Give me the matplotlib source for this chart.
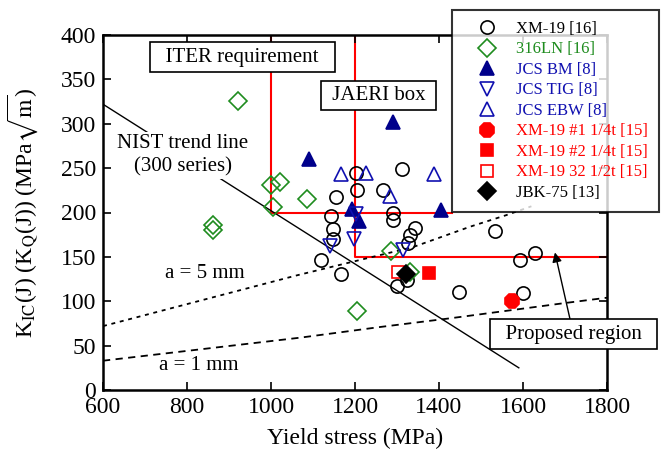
# -*- coding: utf-8 -*-
import matplotlib
matplotlib.use('Agg')
import matplotlib.pyplot as plt

plt.rcParams['font.family'] = ['Liberation Serif', 'DejaVu Serif']
plt.rcParams['mathtext.fontset'] = 'stix'

# data
xm19_x = [1202, 1311, 1204, 1154, 1266, 1143, 1291, 1291, 1147, 1147, 1343,
          1331, 1327, 1118, 1167, 1323, 1301, 1448, 1533, 1593, 1628, 1599]
xm19_y = [244, 249, 225, 218, 225, 196, 199, 191, 181, 170, 183,
          175, 166, 147, 131, 124, 117, 110, 179, 146, 154, 109]
ln316_x = [922, 999, 1021, 1005, 1086, 861, 861, 1286, 1330, 1204]
ln316_y = [326, 231, 234, 206, 215, 186, 180, 157, 133, 89]
bm_x = [1290, 1090, 1192, 1210, 1405]
bm_y = [302, 260, 204, 190, 203]
tig_x = [1202, 1198, 1140, 1315]
tig_y = [198, 170, 162, 158]
ebw_x = [1166, 1226, 1283, 1388]
ebw_y = [243, 245, 219, 243]
x1_x, x1_y = [1573], [100]
x2_x, x2_y = [1375], [132]
x32_x, x32_y = [1303], [133]
jbk_x, jbk_y = [1321], [131]

# guide lines
nist_x = [600, 1590]
nist_y = [322, 25]
a5_x = [600, 1060, 1216, 1338, 1474, 1560, 1620]
a5_y = [72, 129, 147, 161, 184, 197, 207]
a1_x = [600, 1070, 1260, 1430, 1700, 1800]
a1_y = [33, 59, 71, 81, 98, 104]
iter_x = [1000, 1000, 1430]
iter_y = [400, 200, 200]
jaeri_x = [1200, 1200, 1800]
jaeri_y = [400, 150, 150]

GREEN = '#1e8c1e'
BLUE = '#1010b0'
NAVY = '#00008b'
RED = '#ff0000'

fig = plt.figure(figsize=(6.67, 4.55), dpi=100)
ax = fig.add_axes([103/667, 1-390/455, 504/667, 355/455])

ax.plot(iter_x, iter_y, color=RED, lw=1.5, zorder=1)
ax.plot(jaeri_x, jaeri_y, color=RED, lw=1.5, zorder=1)
ax.plot(nist_x, nist_y, color='black', lw=1.0, zorder=1)
ax.plot(a5_x, a5_y, color='black', lw=1.3, ls=(0, (2.2, 2.6)), zorder=1)
ax.plot(a1_x, a1_y, color='black', lw=1.3, ls=(0, (4, 3)), zorder=1)

ms = 9.5
mew = 1.2
h = []
h.append(ax.plot(xm19_x, xm19_y, 'o', ms=ms, mfc='none', mec='black', mew=mew, label='XM-19 [16]')[0])
h.append(ax.plot(ln316_x, ln316_y, 'D', ms=9, mfc='none', mec=GREEN, mew=mew, label='316LN [16]')[0])
h.append(ax.plot(bm_x, bm_y, '^', ms=10, mfc=NAVY, mec=NAVY, mew=mew, label='JCS BM [8]')[0])
h.append(ax.plot(tig_x, tig_y, 'v', ms=10, mfc='none', mec=BLUE, mew=mew, label='JCS TIG [8]')[0])
h.append(ax.plot(ebw_x, ebw_y, '^', ms=10, mfc='none', mec=BLUE, mew=mew, label='JCS EBW [8]')[0])
h.append(ax.plot(x1_x, x1_y, '8', ms=11, mfc=RED, mec=RED, mew=mew, label='XM-19 #1 1/4t [15]')[0])
h.append(ax.plot(x2_x, x2_y, 's', ms=8.5, mfc=RED, mec=RED, mew=mew, label='XM-19 #2 1/4t [15]')[0])
h.append(ax.plot(x32_x, x32_y, 's', ms=8.5, mfc='none', mec=RED, mew=mew, label='XM-19 32 1/2t [15]')[0])
h.append(ax.plot(jbk_x, jbk_y, 'D', ms=9, mfc='black', mec='black', mew=mew, label='JBK-75 [13]')[0])

ax.set_xlim(600, 1800)
ax.set_ylim(0, 400)
ax.set_xticks(range(600, 1801, 200))
ax.set_yticks(range(0, 401, 50))
ax.tick_params(direction='in', top=True, right=True, length=6, width=1.2,
               labelsize=17, pad=5)
for s in ax.spines.values():
    s.set_linewidth(1.8)

ax.set_xlabel('Yield stress (MPa)', fontsize=17, labelpad=7)
ax.set_ylabel(r'K$_{\rm IC}$(J) (K$_{\rm Q}$(J)) (MPa$\sqrt{\rm m}$)', fontsize=17)
ax.yaxis.set_label_coords(-0.125, 0.5)

box = dict(boxstyle='square,pad=0.25', fc='white', ec='black', lw=1.2)
ax.text(932, 375, '  ITER requirement  ', fontsize=15, ha='center', va='center', bbox=box, zorder=3)
ax.text(1256, 332, ' JAERI box ', fontsize=15, ha='center', va='center', bbox=box, zorder=3)
ax.text(790, 264, 'NIST trend line\n(300 series)', fontsize=15, ha='center', va='center',
        linespacing=1.3, bbox=dict(boxstyle='square,pad=0.1', fc='white', ec='none'), zorder=3)
ax.text(843, 131, 'a = 5 mm', fontsize=15, ha='center', va='center')
ax.text(827, 28, 'a = 1 mm', fontsize=15, ha='center', va='center')
ax.annotate('  Proposed region  ', xy=(1676, 155), xytext=(1720, 63), fontsize=15,
            ha='center', va='center', bbox=box, zorder=4,
            arrowprops=dict(arrowstyle='-|>', color='black', lw=1.0, mutation_scale=14,
                            shrinkA=0, shrinkB=0))

leg_colors = ['black', GREEN, BLUE, BLUE, BLUE, RED, RED, RED, 'black']
leg = fig.legend(handles=h, loc='upper left', bbox_to_anchor=(452/667, 1-10/455),
                 fontsize=12, frameon=True, fancybox=False, borderpad=0.65,
                 handlelength=2.9, handletextpad=0.3, labelspacing=0.27,
                 borderaxespad=0)
leg.get_frame().set_edgecolor('black')
leg.get_frame().set_linewidth(1.5)
for t, c in zip(leg.get_texts(), leg_colors):
    t.set_color(c)

fig.savefig('out.png', dpi=100)
